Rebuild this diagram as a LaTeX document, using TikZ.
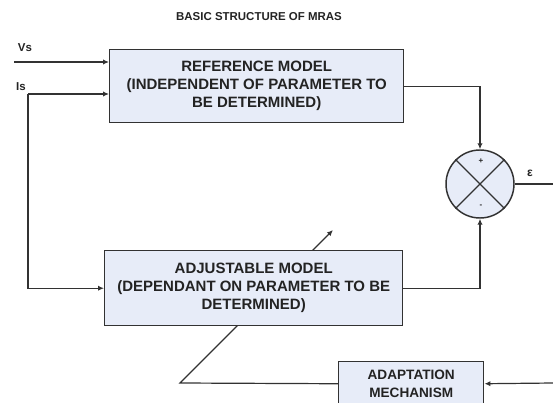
\documentclass[tikz,border=0pt]{standalone}
\usepackage{fontspec}
\setmainfont{Liberation Sans}
\usepackage{tikz}
\usetikzlibrary{arrows.meta,shapes.geometric}
\definecolor{boxfill}{RGB}{231,236,248}
\definecolor{linegray}{RGB}{50,50,50}
\definecolor{inkgray}{RGB}{35,35,35}

\begin{document}
\begin{tikzpicture}[x=0.75pt, y=-0.75pt,
	wire/.style={draw=linegray, line width=0.9pt},
	arr/.style={wire, -{Latex[length=4.5pt,width=4pt]}},
	block/.style={draw=linegray, line width=1.1pt, fill=boxfill, anchor=north west, align=center, inner sep=0pt, text=inkgray, font=\bfseries\fontsize{11.25}{13.5}\selectfont},
	lbl/.style={text=inkgray, inner sep=0pt, font=\bfseries\fontsize{8.6}{10}\selectfont}]
	\clip (0,0) rectangle (553,403);
	% Paths, nodes and wires:
	\node[lbl] (title) at (259,17) {BASIC STRUCTURE OF MRAS};
	\node[lbl] (vs) at (25,48) {Vs};
	\node[lbl] (is) at (21,87) {Is};
	\coordinate (vsin) at (14,62);
	\coordinate (isin) at (28,94);
	\coordinate (kink) at (180,383);
	\coordinate (tune) at (333,230);
	\coordinate (errout) at (553,184);
	\coordinate (adaptin) at (553,383);
	\node[block, minimum width=220.5pt, minimum height=54.75pt] (ref) at (109,49) {REFERENCE MODEL\\(INDEPENDENT OF PARAMETER TO\\BE DETERMINED)};
	\node[block, minimum width=108.75pt, minimum height=33pt, font=\bfseries\fontsize{10.2}{13.5}\selectfont] (adapt) at (338,361) {ADAPTATION\\MECHANISM};
	\draw[arr] (adapt.west) -- (kink) -- (tune);
	\node[block, minimum width=223.5pt, minimum height=56.25pt] (adj) at (104,250) {ADJUSTABLE MODEL\\(DEPENDANT ON PARAMETER TO BE\\DETERMINED)};
	\node[circle, draw=linegray, line width=1.1pt, fill=boxfill, minimum size=51pt, inner sep=0pt] (sum) at (480,184) {};
	\draw[wire] (sum.north west) -- (sum.south east) (sum.north east) -- (sum.south west);
	\node[lbl, font=\bfseries\fontsize{6}{7}\selectfont] (plus) at (481,161) {+};
	\node[lbl, font=\bfseries\fontsize{6}{7}\selectfont] (minus) at (481,206) {-};
	\node[lbl, font=\bfseries\fontsize{9}{10}\selectfont] (eps) at (530,173) {ε};
	\draw[arr] (vsin) -- (vsin -| ref.west);
	\draw[arr] (isin) -- (isin -| ref.west);
	\draw[arr] (isin) |- (adj.west);
	\draw[arr] (ref.east) -| (sum.north);
	\draw[arr] (adj.east) -| (sum.south);
	\draw[wire] (sum.east) -- (errout);
	\draw[arr] (adaptin) -- (adapt.east);
\end{tikzpicture}
\end{document}
